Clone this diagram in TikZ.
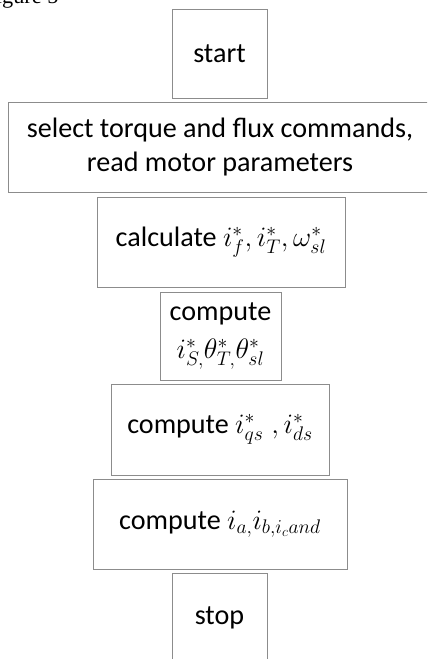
\documentclass[tikz,border=0pt]{standalone}
\usepackage{fix-cm}
\usepackage{fontspec}
\setmainfont{Carlito}
\newfontfamily\capfont{Liberation Serif}
\usetikzlibrary{positioning}
\tikzset{
    procbox/.style  = {draw=black!45, line width=0.8pt, align=center, inner sep=0pt,
                       minimum height=2.7cm, font=\fontsize{24}{29}\selectfont},
    termbox/.style  = {procbox, minimum width=2.85cm, minimum height=2.67cm},
    figcap/.style   = {font=\capfont\fontsize{19}{22}\selectfont, inner sep=0pt, anchor=base west}
}

\begin{document}
\begin{tikzpicture}[x=1cm, y=1cm]
        \useasboundingbox (0,0) rectangle (12.81,-19.77);
        \clip (0,0) rectangle (12.81,-19.77);

        % --- Caption (cut off at the top) ---
        \node[figcap] (cap) at (-0.5,-0.09) {Figure 5};

        % --- Steps ---
        \node[termbox]                                   (start) at (6.585,-1.605)  {start};
        \node[procbox, minimum width=12.72cm]            (sel)   at (6.6,-4.41)     {select torque and flux commands,\\read motor parameters};
        \node[procbox, minimum width=7.44cm]             (calc)  at (6.63,-7.26)    {calculate $i^{*}_{f}, i^{*}_{T}, \omega^{*}_{sl}$};
        \node[procbox, minimum width=3.63cm,
              minimum height=2.64cm]                     (angl)  at (6.615,-10.08)  {compute\\[4pt]$i^{*}_{S,}\theta^{*}_{T,}\theta^{*}_{sl}$};
        \node[procbox, minimum width=6.54cm,
              minimum height=2.73cm]                     (dq)    at (6.6,-12.885)   {compute $i^{*}_{qs}\;, i^{*}_{ds}$};
        \node[procbox, minimum width=7.62cm]             (abc)   at (6.6,-15.72)    {compute $i_{a,}i_{b,i_{c}and}$};
        \node[termbox]                                   (stop)  at (6.585,-18.525) {stop};
    \end{tikzpicture}
\end{document}
